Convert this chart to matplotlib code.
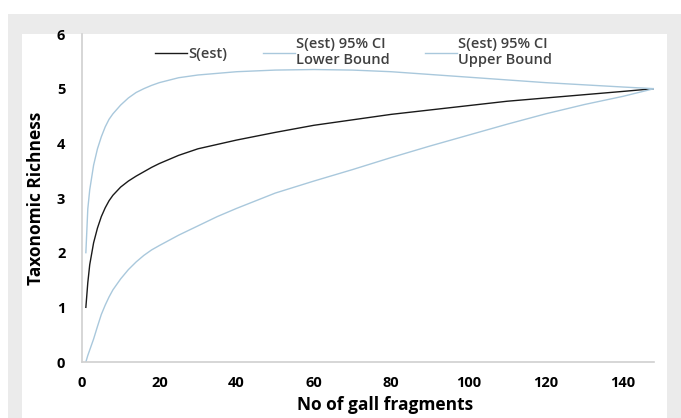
import matplotlib
matplotlib.use("Agg")
import matplotlib.pyplot as plt
from matplotlib.patches import Rectangle
from matplotlib.lines import Line2D

# values
fragments = [1, 1.5, 2, 3, 4, 5, 6, 7, 8, 10, 12, 14, 16, 18, 20, 25, 30, 35, 40, 50, 60,
             70, 80, 90, 100, 110, 120, 130, 140, 148]
s_est = [1.0, 1.45, 1.78, 2.18, 2.45, 2.66, 2.82, 2.95, 3.05, 3.2, 3.31, 3.4, 3.48, 3.56, 3.63,
         3.78, 3.9, 3.98, 4.06, 4.2, 4.33, 4.43, 4.53, 4.61, 4.69, 4.77, 4.83, 4.89, 4.95, 5.0]
ci_upper = [2.0, 2.8, 3.15, 3.6, 3.9, 4.12, 4.3, 4.44, 4.54, 4.7, 4.83, 4.93, 5.0, 5.06, 5.11,
            5.2, 5.25, 5.28, 5.31, 5.34, 5.35, 5.34, 5.31, 5.26, 5.21, 5.16, 5.11, 5.07, 5.03, 5.0]
ci_lower = [0.0, 0.12, 0.22, 0.42, 0.65, 0.87, 1.04, 1.19, 1.32, 1.52, 1.69, 1.83, 1.95, 2.05,
            2.13, 2.32, 2.49, 2.66, 2.81, 3.09, 3.31, 3.52, 3.74, 3.95, 4.15, 4.35, 4.54, 4.71,
            4.86, 5.0]

labels = ["S(est)", "S(est) 95% CI\nLower Bound", "S(est) 95% CI\nUpper Bound"]
x_ticks = [0, 20, 40, 60, 80, 100, 120, 140]
y_ticks = [0, 1, 2, 3, 4, 5, 6]

plt.rcParams['font.family'] = ['Open Sans', 'DejaVu Sans']

W, H = 681, 418
fig = plt.figure(figsize=(W / 100, H / 100), dpi=100)
fig.patch.set_facecolor("white")
# grey frame and white panel behind the chart
fig.patches.append(Rectangle((8 / W, 0), 1 - 8 / W, (H - 14) / H, transform=fig.transFigure,
                             facecolor="#ebebeb", edgecolor="none", zorder=-2))
fig.patches.append(Rectangle((22 / W, 0), (667 - 22) / W, (H - 34) / H, transform=fig.transFigure,
                             facecolor="white", edgecolor="none", zorder=-1))

ax = fig.add_axes([82 / W, (H - 362) / H, 572 / W, 328 / H])
ax.set_facecolor("none")

line_blue = "#a9c8dc"
ax.plot(fragments, s_est, color="#1a1a1a", lw=1.0)
ax.plot(fragments, ci_lower, color=line_blue, lw=1.0)
ax.plot(fragments, ci_upper, color=line_blue, lw=1.0)

ax.set_xlim(0, 148)
ax.set_ylim(0, 6)
ax.set_xticks(x_ticks)
ax.set_yticks(y_ticks)
ax.tick_params(length=0, labelsize=10.5)
ax.tick_params(axis="x", pad=10)
ax.tick_params(axis="y", pad=12)
for lbl in ax.get_xticklabels() + ax.get_yticklabels():
    lbl.set_fontweight("bold")

for side in ["top", "right"]:
    ax.spines[side].set_visible(False)
for side in ["left", "bottom"]:
    ax.spines[side].set_color("#d0d0d0")
    ax.spines[side].set_linewidth(1.2)

ax.set_xlabel("No of gall fragments", fontsize=12.5, fontweight="bold")
ax.xaxis.set_label_coords(0.53, -0.105)
ax.set_ylabel("Taxonomic Richness", fontsize=12.5, fontweight="bold")
ax.yaxis.set_label_coords(-0.064, 0.5)

handles = [Line2D([], [], color="#1a1a1a", lw=1.0),
           Line2D([], [], color=line_blue, lw=1.0),
           Line2D([], [], color=line_blue, lw=1.0)]
leg = ax.legend(handles, labels, loc="upper center", bbox_to_anchor=(0.475, 1.03), ncol=3,
                frameon=False, handlelength=2.2, handletextpad=0.1, columnspacing=2.4,
                prop={"size": 10.5, "weight": "semibold"})
for t in leg.get_texts():
    t.set_color("#404040")

fig.savefig("out.png", dpi=100)
